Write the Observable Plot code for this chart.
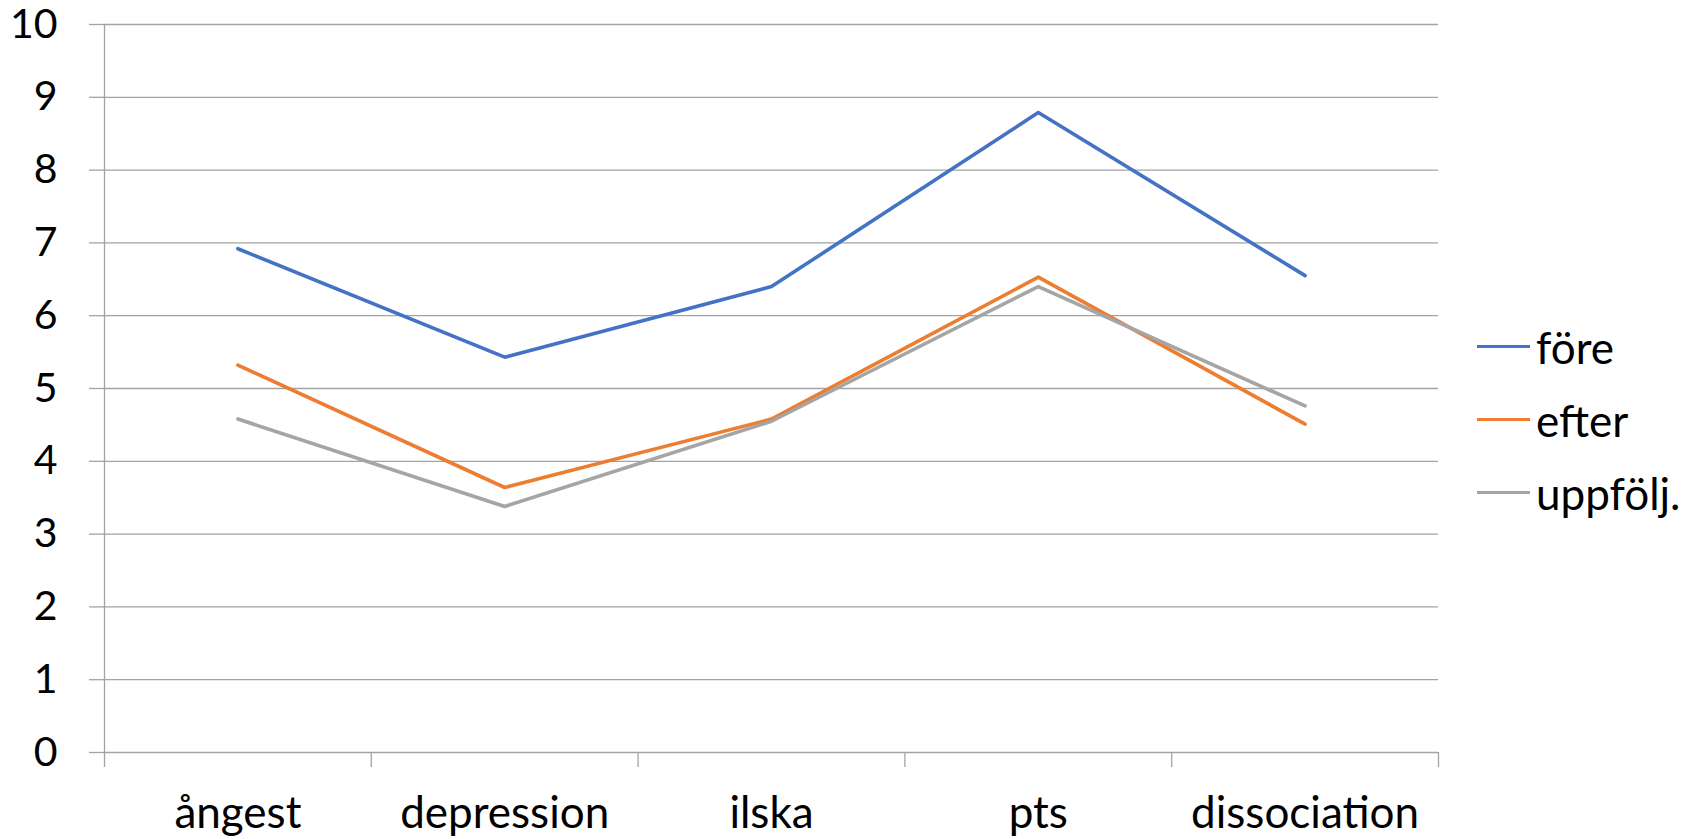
<!DOCTYPE html>
<html>
<head>
<meta charset="utf-8">
<script src="https://cdn.jsdelivr.net/npm/d3@7"></script>
<script src="https://cdn.jsdelivr.net/npm/@observablehq/plot@0.6"></script>
<style>
  html, body { margin: 0; padding: 0; background: #fff; }
  #wrap { position: relative; width: 1700px; height: 839px; }
  #legend { position: absolute; left: 1477px; top: 310px; font-family: Lato, "Open Sans", sans-serif; font-size: 44px; color: #000; }
  .row { display: flex; align-items: center; height: 73px; }
  .sw { width: 53px; height: 3.5px; margin-right: 6px; }
</style>
</head>
<body>
<div id="wrap"></div>
<script>
const categories = ["ångest", "depression", "ilska", "pts", "dissociation"];
const series = ["före", "efter", "uppfölj."];
const fore = [6.92, 5.43, 6.40, 8.79, 6.55];
const efter = [5.32, 3.64, 4.58, 6.53, 4.51];
const uppfolj = [4.58, 3.38, 4.55, 6.40, 4.76];
const yTicks = [0, 1, 2, 3, 4, 5, 6, 7, 8, 9, 10];
const colors = ["#4472C4", "#ED7D31", "#A5A5A5"];

const values = [fore, efter, uppfolj];
const data = [];
series.forEach((s, si) => values[si].forEach((v, i) => data.push({series: s, i, value: v})));
const idx = categories.map((_, i) => i);
const bounds = [-0.5, ...idx.map(i => i + 0.5)];

const chart = Plot.plot({
  width: 1700,
  height: 839,
  marginLeft: 104,
  marginRight: 262,
  marginTop: 24,
  marginBottom: 87,
  style: {fontFamily: "Lato, 'Open Sans', sans-serif", fontSize: "40px", color: "#000", background: "#fff", overflow: "visible"},
  x: {domain: [-0.5, categories.length - 0.5]},
  y: {domain: [0, 10]},
  color: {domain: series, range: colors},
  marks: [
    Plot.gridY(yTicks, {stroke: "#a3a3a3", strokeOpacity: 1, strokeWidth: 1.3}),
    Plot.axisY({ticks: yTicks, tickSize: 15, tickPadding: 32, stroke: "#a3a3a3", strokeWidth: 1.3, label: null, fill: "#000", fontSize: 41}),
    Plot.ruleX([-0.5], {y1: 0, y2: 10, stroke: "#a3a3a3", strokeWidth: 1.3}),
    Plot.axisX({ticks: bounds, tickSize: 15, tickFormat: () => "", stroke: "#a3a3a3", strokeWidth: 1.3, label: null}),
    Plot.axisX({ticks: idx, tickSize: 0, tickPadding: 44, tickFormat: i => categories[i], label: null, fill: "#000", fontSize: 44}),
    Plot.line(data, {x: "i", y: "value", z: "series", stroke: "series", strokeWidth: 3.6, strokeLinecap: "round", strokeLinejoin: "round"})
  ]
});
const wrap = document.getElementById("wrap");
wrap.appendChild(chart);

const legend = document.createElement("div");
legend.id = "legend";
series.forEach((s, si) => {
  const row = document.createElement("div");
  row.className = "row";
  const sw = document.createElement("div");
  sw.className = "sw";
  sw.style.background = colors[si];
  const t = document.createElement("span");
  t.textContent = s;
  row.appendChild(sw);
  row.appendChild(t);
  legend.appendChild(row);
});
wrap.appendChild(legend);
</script>
</body>
</html>
